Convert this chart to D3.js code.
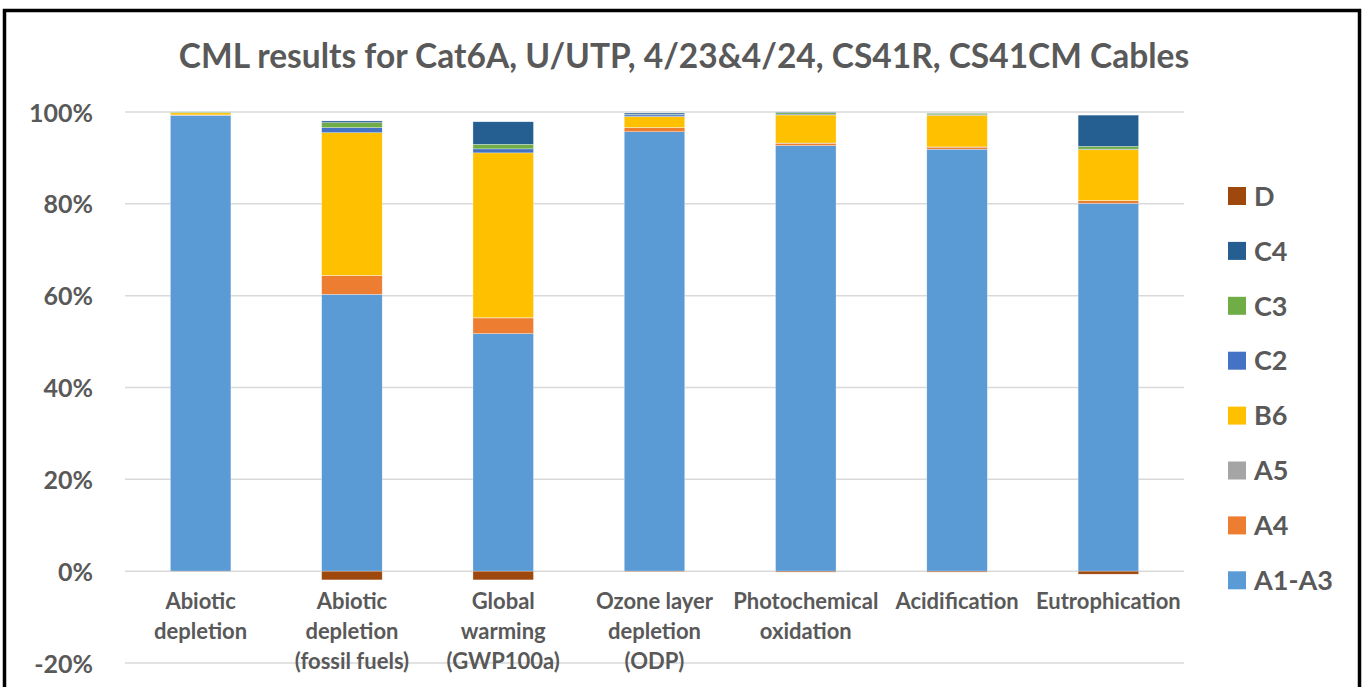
<!DOCTYPE html>
<html>
<head>
<meta charset="utf-8">
<script src="https://cdn.jsdelivr.net/npm/d3@7"></script>
<style>
  body { margin: 0; background: #fff; }
  svg { display: block; }
  text { font-family: Lato, "Open Sans", sans-serif; font-weight: bold; fill: #595959; }
</style>
</head>
<body>
<svg id="chart" width="1364" height="687"></svg>
<script>
// data (percent of total)
var categories = [
  ["Abiotic", "depletion"],
  ["Abiotic", "depletion", "(fossil fuels)"],
  ["Global", "warming", "(GWP100a)"],
  ["Ozone layer", "depletion", "(ODP)"],
  ["Photochemical", "oxidation"],
  ["Acidification"],
  ["Eutrophication"]
];
var seriesNames = ["A1-A3", "A4", "A5", "B6", "C2", "C3", "C4", "D"];
var a1a3 = [99.3, 60.3, 51.75, 95.7, 92.7, 91.9, 80.1];
var a4 = [0.05, 4.05, 3.4, 0.87, 0.5, 0.45, 0.57];
var a5 = [0.02, 0.05, 0.05, 0.05, 0.05, 0.05, 0.05];
var b6 = [0.45, 31.1, 35.9, 2.4, 6.1, 6.9, 11.1];
var c2 = [0.05, 1.1, 0.87, 0.35, 0.2, 0.1, 0.1];
var c3 = [0.15, 1.1, 1.0, 0.1, 0.3, 0.3, 0.6];
var c4 = [0.05, 0.35, 4.9, 0.3, 0.1, 0.05, 6.8];
var dVals = [-0.05, -1.9, -1.9, -0.15, -0.2, -0.2, -0.65];
var yTicks = [-20, 0, 20, 40, 60, 80, 100];

var colors = {
  "A1-A3": "#5B9BD5",
  "A4": "#ED7D31",
  "A5": "#A5A5A5",
  "B6": "#FFC000",
  "C2": "#4472C4",
  "C3": "#70AD47",
  "C4": "#255E91",
  "D": "#9E480E"
};

var seriesData = [a1a3, a4, a5, b6, c2, c3, c4, dVals];
var rows = categories.map(function (c, i) {
  var r = { idx: i };
  seriesNames.forEach(function (s, j) { r[s] = seriesData[j][i]; });
  return r;
});

var svg = d3.select("#chart");

// frame
svg.append("rect")
  .attr("x", 4.5).attr("y", 10.5)
  .attr("width", 1355).attr("height", 700)
  .attr("fill", "#fff")
  .attr("stroke", "#000")
  .attr("stroke-width", 3.5);

svg.append("text")
  .attr("x", 684).attr("y", 68)
  .attr("text-anchor", "middle")
  .style("font-size", "33.5px")
  .text("CML results for Cat6A, U/UTP, 4/23&4/24, CS41R, CS41CM Cables");

var x = d3.scaleBand()
  .domain(d3.range(categories.length))
  .range([125, 1184])
  .paddingInner(0.6)
  .paddingOuter(0.3);

var y = d3.scaleLinear().domain([-20, 100]).range([663, 112]);

// gridlines
svg.append("g")
  .selectAll("line")
  .data(yTicks)
  .join("line")
  .attr("x1", 125).attr("x2", 1184)
  .attr("y1", function (d) { return y(d); })
  .attr("y2", function (d) { return y(d); })
  .attr("stroke", "#d9d9d9")
  .attr("stroke-width", 1.5);

var yAxis = svg.append("g")
  .attr("transform", "translate(93,0)")
  .call(d3.axisLeft(y).tickValues(yTicks).tickSize(0).tickPadding(0)
    .tickFormat(function (d) { return d + "%"; }));
yAxis.select(".domain").remove();
yAxis.selectAll("text")
  .style("font-size", "25px")
  .attr("fill", "#595959")
  .attr("dy", "0.36em");

var stack = d3.stack().keys(seriesNames).offset(d3.stackOffsetDiverging);
var layers = stack(rows);

svg.append("g")
  .selectAll("g")
  .data(layers)
  .join("g")
  .attr("fill", function (d) { return colors[d.key]; })
  .selectAll("rect")
  .data(function (d) { return d; })
  .join("rect")
  .attr("x", function (d) { return x(d.data.idx); })
  .attr("width", x.bandwidth())
  .attr("y", function (d) { return y(d[1]); })
  .attr("height", function (d) { return Math.max(0, y(d[0]) - y(d[1])); })
  .attr("stroke", "#fff")
  .attr("stroke-width", 0.5)
  .attr("stroke-opacity", 0.6);

// category labels
var xl = svg.append("g");
categories.forEach(function (lines, i) {
  var t = xl.append("text")
    .attr("text-anchor", "middle")
    .style("font-size", "22px");
  lines.forEach(function (ln, k) {
    t.append("tspan")
      .attr("x", x(i) + x.bandwidth() / 2)
      .attr("y", 609 + k * 30)
      .text(ln);
  });
});

// legend
var legendItems = seriesNames.slice().reverse();
var lg = svg.append("g")
  .selectAll("g")
  .data(legendItems)
  .join("g")
  .attr("transform", function (d, i) { return "translate(1228," + (196 + i * 54.9) + ")"; });
lg.append("rect")
  .attr("x", 0).attr("y", -9)
  .attr("width", 18).attr("height", 18)
  .attr("fill", function (d) { return colors[d]; });
lg.append("text")
  .attr("x", 26).attr("y", 0)
  .attr("dy", "0.36em")
  .style("font-size", "27px")
  .text(function (d) { return d; });
</script>
</body>
</html>
